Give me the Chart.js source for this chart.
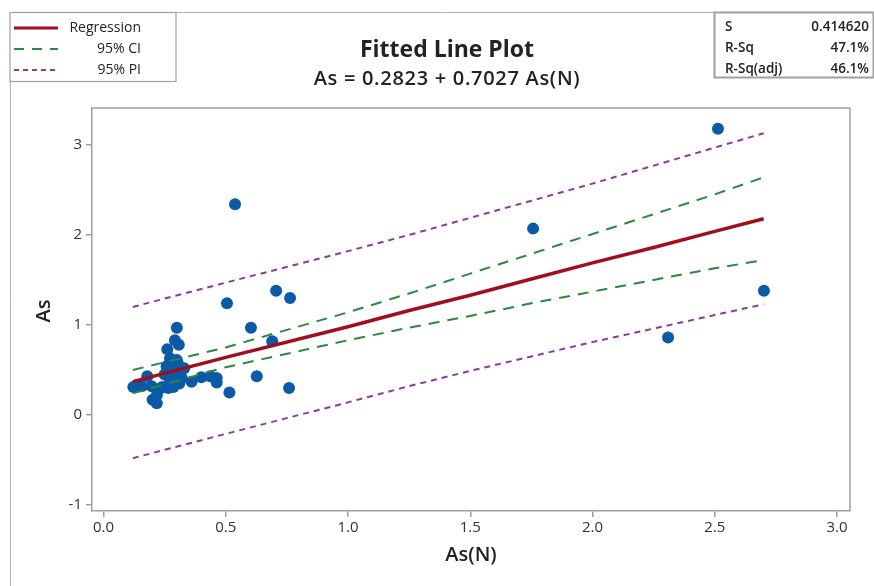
<!DOCTYPE html>
<html><head><meta charset="utf-8">
<script src="https://cdn.jsdelivr.net/npm/chart.js@4.4.1/dist/chart.umd.min.js"></script>
<style>html,body{margin:0;padding:0;background:#fff}#wrap{width:874px;height:586px}</style>
</head><body><div id="wrap"><canvas id="c" width="874" height="586"></canvas></div>
<script>
// Observed points: As(N) vs As
const obsX = [0.122,0.14,0.156,0.179,0.197,0.201,0.218,0.218,0.231,0.24,0.25,0.258,0.261,0.265,0.272,0.272,0.279,0.279,0.28,0.286,0.29,0.292,0.30,0.30,0.306,0.308,0.31,0.313,0.32,0.33,0.36,0.40,0.436,0.463,0.463,0.505,0.515,0.538,0.603,0.627,0.69,0.706,0.759,0.763,1.757,2.309,2.513,2.701];
const obsY = [0.31,0.33,0.32,0.43,0.32,0.17,0.13,0.22,0.29,0.31,0.45,0.54,0.73,0.30,0.63,0.37,0.48,0.43,0.58,0.31,0.52,0.83,0.97,0.61,0.56,0.78,0.35,0.48,0.41,0.52,0.37,0.42,0.43,0.41,0.36,1.24,0.25,2.34,0.97,0.43,0.82,1.38,0.30,1.30,2.07,0.86,3.18,1.38];
// Fitted line and bands, read at these x positions
const fitX = [0.12,0.5,1.0,1.25,1.5,1.75,2.0,2.25,2.5,2.7];
const regY = [0.37,0.64,0.98,1.16,1.33,1.51,1.69,1.86,2.04,2.18];
const ciUp = [0.50,0.75,1.14,1.35,1.57,1.79,2.01,2.23,2.45,2.64];
const ciLo = [0.24,0.53,0.83,0.97,1.10,1.24,1.37,1.50,1.63,1.72];
const piUp = [1.20,1.47,1.82,2.00,2.19,2.38,2.57,2.77,2.97,3.13];
const piLo = [-0.48,-0.21,0.14,0.32,0.49,0.65,0.81,0.96,1.11,1.23];
const xTicks = [0.0,0.5,1.0,1.5,2.0,2.5,3.0];
const yTicks = [-1,0,1,2,3];
const titleText = 'Fitted Line Plot';
const subtitleText = 'As = 0.2823 + 0.7027 As(N)';
const legendLabels = ['Regression','95% CI','95% PI'];
const statLabels = ['S','R-Sq','R-Sq(adj)'];
const statValues = ['0.414620','47.1%','46.1%'];

const FONT = '"Open Sans", "Noto Sans", sans-serif';
const BLUE = '#0a5aa8', RED = '#a00f1e', GREEN = '#2a8a3a', PURPLE = '#8b3a9e', FRAME = '#a0a0a0';

const pts = (xs, ys) => xs.map((x, i) => ({x, y: ys[i]}));

const deco = {
  id: 'deco',
  afterDraw(chart) {
    const ctx = chart.ctx, a = chart.chartArea;
    ctx.save();
    ctx.strokeStyle = FRAME; ctx.lineWidth = 1.5;
    ctx.beginPath(); ctx.moveTo(a.left, a.top); ctx.lineTo(a.right, a.top); ctx.lineTo(a.right, a.bottom); ctx.stroke();
    ctx.strokeStyle = '#b0b0b0'; ctx.lineWidth = 1;
    ctx.beginPath(); ctx.moveTo(10.5, 586); ctx.lineTo(10.5, 12.5); ctx.lineTo(874, 12.5); ctx.stroke();
    ctx.fillStyle = '#222'; ctx.textAlign = 'center'; ctx.textBaseline = 'middle';
    ctx.font = 'bold 23px ' + FONT; ctx.fillText(titleText, 447, 50);
    ctx.font = '600 20px ' + FONT;
    if ('letterSpacing' in ctx) ctx.letterSpacing = '0.7px';
    ctx.fillText(subtitleText, 447, 79);
    if ('letterSpacing' in ctx) ctx.letterSpacing = '0px';
    ctx.font = '600 20px ' + FONT; ctx.fillText('As(N)', 471, 555);
    ctx.save(); ctx.translate(44, 311); ctx.rotate(-Math.PI / 2); ctx.fillText('As', 0, 0); ctx.restore();
    ctx.fillStyle = '#fff'; ctx.fillRect(10, 12, 166, 69);
    ctx.strokeStyle = '#a0a0a0'; ctx.lineWidth = 1.2; ctx.strokeRect(10, 12.5, 166, 69);
    const rowsY = [28, 49, 70];
    const styles = [[RED, [], 3], [GREEN, [10, 8], 2], [PURPLE, [5, 4], 2]];
    rowsY.forEach((y, i) => {
      ctx.strokeStyle = styles[i][0]; ctx.setLineDash(styles[i][1]); ctx.lineWidth = styles[i][2];
      ctx.beginPath(); ctx.moveTo(14, y); ctx.lineTo(58, y); ctx.stroke();
    });
    ctx.setLineDash([]);
    ctx.fillStyle = '#222'; ctx.font = '14px ' + FONT; ctx.textAlign = 'right';
    legendLabels.forEach((t, i) => ctx.fillText(t, 141, rowsY[i]));
    ctx.fillStyle = '#fff'; ctx.fillRect(714, 12, 159, 66);
    ctx.strokeStyle = '#a0a0a0'; ctx.strokeRect(714.5, 12.5, 159, 65);
    ctx.fillStyle = '#222'; ctx.font = '600 13.5px ' + FONT;
    rowsY.forEach((y, i) => {
      ctx.textAlign = 'left'; ctx.fillText(statLabels[i], 725, y - 1);
      ctx.textAlign = 'right'; ctx.fillText(statValues[i], 869, y - 1);
    });
    ctx.restore();
  }
};

new Chart(document.getElementById('c'), {
  type: 'scatter',
  data: {
    datasets: [
      {label: 'PI upper', type: 'line', data: pts(fitX, piUp), borderColor: PURPLE, borderWidth: 2, borderDash: [6, 5], pointRadius: 0, fill: false},
      {label: 'PI lower', type: 'line', data: pts(fitX, piLo), borderColor: PURPLE, borderWidth: 2, borderDash: [6, 5], pointRadius: 0, fill: false},
      {label: 'CI upper', type: 'line', data: pts(fitX, ciUp), borderColor: GREEN, borderWidth: 2, borderDash: [11, 8], pointRadius: 0, fill: false},
      {label: 'CI lower', type: 'line', data: pts(fitX, ciLo), borderColor: GREEN, borderWidth: 2, borderDash: [11, 8], pointRadius: 0, fill: false},
      {label: 'Regression', type: 'line', data: pts(fitX, regY), borderColor: RED, borderWidth: 3.5, pointRadius: 0, fill: false},
      {label: 'Data', data: pts(obsX, obsY), backgroundColor: BLUE, borderColor: BLUE, pointRadius: 6, pointBorderWidth: 0}
    ]
  },
  options: {
    responsive: false, animation: false,
    layout: {padding: {left: 0, right: 24, top: 108, bottom: 0}},
    plugins: {legend: {display: false}, tooltip: {enabled: false}},
    scales: {
      x: {
        type: 'linear', min: -0.047, max: 3.053,
        afterBuildTicks: s => { s.ticks = xTicks.map(v => ({value: v})); },
        afterFit: s => { s.height = 75; },
        grid: {drawOnChartArea: false, drawTicks: true, tickLength: 6, color: FRAME, lineWidth: 1.5},
        border: {display: true, color: FRAME, width: 1.5},
        ticks: {color: '#333', font: {size: 15, family: FONT}, padding: 2, maxRotation: 0, callback: v => v.toFixed(1)}
      },
      y: {
        type: 'linear', min: -1.067, max: 3.41,
        afterBuildTicks: s => { s.ticks = yTicks.map(v => ({value: v})); },
        afterFit: s => { s.width = 92; },
        grid: {drawOnChartArea: false, drawTicks: true, tickLength: 6, color: FRAME, lineWidth: 1.5},
        border: {display: true, color: FRAME, width: 1.5},
        ticks: {color: '#333', font: {size: 15, family: FONT}, padding: 4, callback: v => String(v)}
      }
    }
  },
  plugins: [deco]
});
</script></body></html>
